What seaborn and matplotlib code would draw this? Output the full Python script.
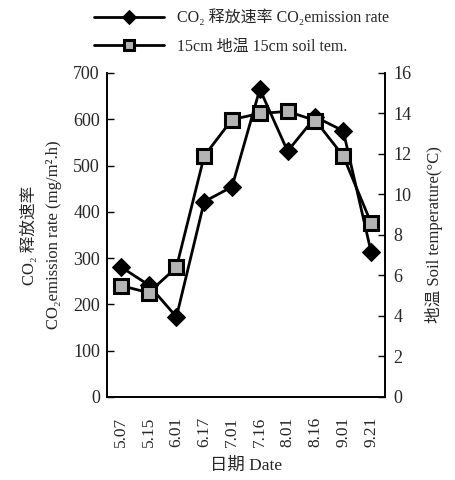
import numpy as np
import pandas as pd
import seaborn as sns
import matplotlib
matplotlib.use("Agg")
import matplotlib.pyplot as plt
from matplotlib.ticker import FixedLocator

dates = ["5.07", "5.15", "6.01", "6.17", "7.01", "7.16", "8.01", "8.16", "9.01", "9.21"]
co2_rate = [281, 242, 173, 422, 454, 665, 531, 605, 575, 314]
soil_temp = [5.5, 5.15, 6.4, 11.9, 13.7, 14.0, 14.1, 13.65, 11.9, 8.6]

sns.set_theme(style="white")
plt.rcParams['font.family'] = ['Liberation Serif', 'Noto Sans CJK SC', 'DejaVu Sans']
plt.rcParams['axes.unicode_minus'] = False

df = pd.DataFrame({"date": dates, "co2": co2_rate, "temp": soil_temp})

fig = plt.figure(figsize=(4.55, 4.8), dpi=100)
ax = fig.add_axes([0.235, 0.173, 0.611, 0.675])
ax2 = ax.twinx()

sns.lineplot(data=df, x="date", y="co2", ax=ax, color="black", linewidth=2,
             marker="D", markersize=9, markeredgecolor="black",
             label="CO\u2082 释放速率 CO\u2082emission rate", legend=False)
sns.lineplot(data=df, x="date", y="temp", ax=ax2, color="black", linewidth=2,
             marker="s", markersize=10, markerfacecolor="#b4b4b4",
             markeredgecolor="black", markeredgewidth=2.2,
             label="15cm 地温 15cm soil tem.", legend=False)

ax.set_xlim(-0.5, len(dates) - 0.5)
ax.set_ylim(0, 700)
ax2.set_ylim(0, 16)
ax.set_yticks(np.arange(0, 701, 100))
ax2.set_yticks(np.arange(0, 17, 2))

for a in (ax, ax2):
    for s in a.spines.values():
        s.set_color("black")
        s.set_linewidth(1.2)
    a.spines["top"].set_visible(False)
    a.grid(False)

ax.xaxis.set_minor_locator(FixedLocator(np.arange(0.5, len(dates) - 1, 1)))
ax.tick_params(axis="x", which="major", length=0, labelsize=12.5, rotation=90, pad=14)
ax.tick_params(axis="x", which="minor", direction="in", length=5, color="black", width=1)
ax.tick_params(axis="y", direction="in", length=5, color="black", width=1, labelsize=13, pad=5, left=True)
ax2.tick_params(axis="y", direction="in", length=5, color="black", width=1, labelsize=13, pad=6, right=True)

ax.set_xlabel("日期 Date", fontsize=12.5, labelpad=8)
ax.set_ylabel("CO\u2082 释放速率\nCO\u2082emission rate (mg/m\u00b2.h)", fontsize=12, labelpad=8,
              linespacing=1.7)
ax2.set_ylabel("地温 Soil temperature(\u00b0C)", fontsize=12, labelpad=10)

h1, l1 = ax.get_legend_handles_labels()
h2, l2 = ax2.get_legend_handles_labels()
fig.legend(h1 + h2, l1 + l2, loc="upper center", bbox_to_anchor=(0.53, 1.01),
           frameon=False, fontsize=11.5, handlelength=4.4, labelspacing=0.8,
           markerscale=0.75)

fig.savefig("out.png", dpi=100)
